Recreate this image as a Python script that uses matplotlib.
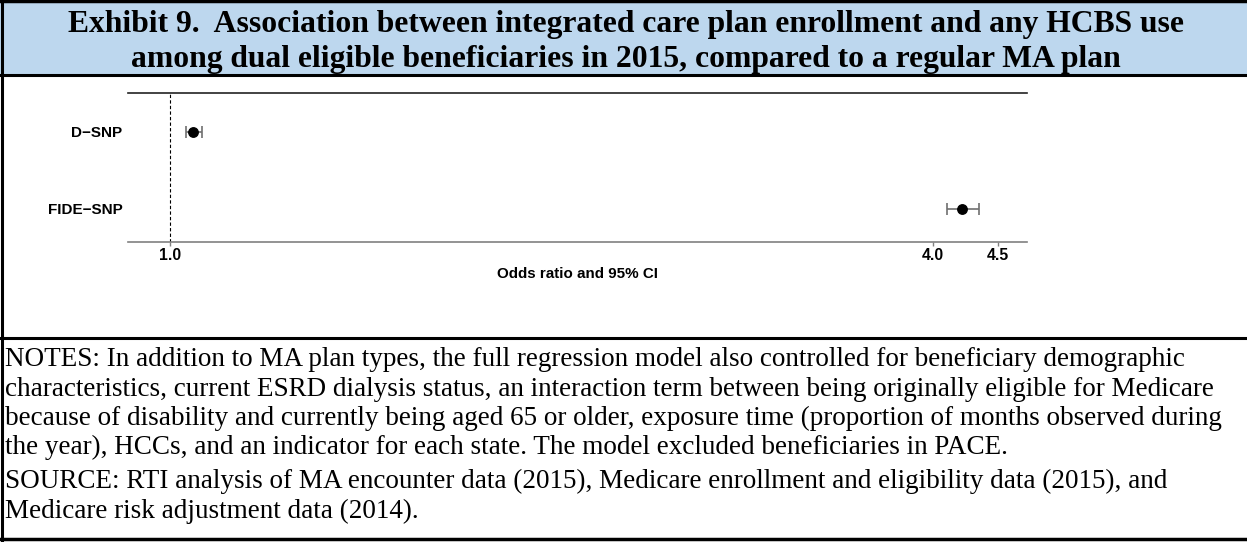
import matplotlib.pyplot as plt
from matplotlib.lines import Line2D
from matplotlib.patches import Rectangle

plans = ["D\u2212SNP", "FIDE\u2212SNP"]
odds_ratio = [1.043, 4.22]
ci_low = [1.029, 4.10]
ci_high = [1.059, 4.35]
tick_vals = [1.0, 4.0, 4.5]
tick_labels = ["1.0", "4.0", "4.5"]

title_lines = ["Exhibit 9.  Association between integrated care plan enrollment and any HCBS use",
               "among dual eligible beneficiaries in 2015, compared to a regular MA plan"]
note_lines = ["NOTES: In addition to MA plan types, the full regression model also controlled for beneficiary demographic",
              "characteristics, current ESRD dialysis status, an interaction term between being originally eligible for Medicare",
              "because of disability and currently being aged 65 or older, exposure time (proportion of months observed during",
              "the year), HCCs, and an indicator for each state. The model excluded beneficiaries in PACE."]
source_lines = ["SOURCE: RTI analysis of MA encounter data (2015), Medicare enrollment and eligibility data (2015), and",
                "Medicare risk adjustment data (2014)."]

W, H = 1247, 542
fig = plt.figure(figsize=(W / 100, H / 100), dpi=100)


def fy(py):
    return 1 - py / H


def fx(px):
    return px / W


# header band and frame lines
fig.add_artist(Rectangle((0, fy(75)), 1, 75 / H, transform=fig.transFigure,
                         facecolor="#bdd7ee", edgecolor="none"))
for y, lw in [(1, 2.5), (75, 2.2), (338, 2.2), (539, 2.5)]:
    fig.add_artist(Line2D([0, 1], [fy(y), fy(y)], transform=fig.transFigure,
                          color="black", lw=lw))
fig.add_artist(Line2D([fx(1.5), fx(1.5)], [0, 1], transform=fig.transFigure,
                      color="black", lw=2.2))

for i, line in enumerate(title_lines):
    fig.text(fx(626), fy(32 + 35 * i), line, ha="center", va="baseline",
             family="Liberation Serif", fontweight="bold", fontsize=22.8)

# forest plot
ax = fig.add_axes([fx(128), fy(242), fx(1027 - 128), (242 - 93) / H])
ax.set_xscale("log")
ypos = list(range(len(plans)))
xerr = [[o - l for o, l in zip(odds_ratio, ci_low)],
        [h - o for o, h in zip(odds_ratio, ci_high)]]
ax.errorbar(odds_ratio, ypos, xerr=xerr, fmt="none", ecolor="#707070",
            elinewidth=1.2, capsize=4.3, capthick=1.2)
ax.plot(odds_ratio, ypos, "o", color="black", markersize=6.8)
ax.axvline(1.0, color="black", lw=0.8, ls=(0, (3, 2)))

ax.set_xlim(0.9265, 4.745)
ax.set_ylim(1.43, -0.5)
ax.set_yticks(ypos)
ax.set_yticklabels(plans, family="Liberation Sans", fontweight="bold", fontsize=11)
ax.tick_params(axis="y", length=0, pad=4)
ax.set_xticks(tick_vals)
ax.set_xticklabels(tick_labels, family="Liberation Sans", fontweight="bold", fontsize=11.3)
ax.xaxis.set_minor_locator(plt.NullLocator())
ax.tick_params(axis="x", length=3, color="#808080", width=1, pad=1.5)
for s in ["left", "right"]:
    ax.spines[s].set_visible(False)
ax.spines["top"].set_color("#222222")
ax.spines["top"].set_linewidth(1.2)
ax.spines["bottom"].set_color("#808080")
ax.spines["bottom"].set_linewidth(1.2)
ax.set_xlabel("Odds ratio and 95% CI", family="Liberation Sans", fontweight="bold",
              fontsize=10.9, labelpad=3)

for i, line in enumerate(note_lines):
    fig.text(fx(5), fy(366 + 29.5 * i), line, ha="left", va="baseline",
             family="Liberation Serif", fontsize=19.5)
for i, line in enumerate(source_lines):
    fig.text(fx(5), fy(488 + 29.5 * i), line, ha="left", va="baseline",
             family="Liberation Serif", fontsize=19.5)

fig.savefig("out.png", dpi=100)
